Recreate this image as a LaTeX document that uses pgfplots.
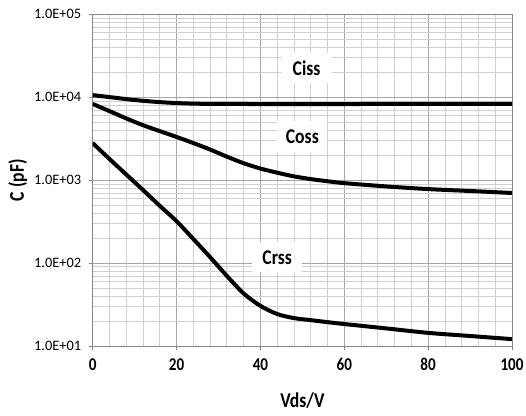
\documentclass[border=0pt]{standalone}
\usepackage{fontspec}
\setmainfont{Carlito}
\usepackage{graphicx}
\usepackage{pgfplots}
\pgfplotsset{compat=1.18}
\definecolor{majgrid}{HTML}{A6A6A6}
\definecolor{mingrid}{HTML}{D0D0D0}
\definecolor{axgray}{HTML}{868686}
\newcommand{\sq}[1]{\scalebox{0.84}[1]{#1}}

\pgfplotstableread{
x y
0 10600
5 9900
10 9250
15 8800
20 8500
25 8350
30 8300
40 8280
60 8280
80 8300
100 8300
}\ciss

\pgfplotstableread{
x y
0 8300
4 6800
8 5550
12 4600
16 3900
20 3320
24 2800
28 2340
32 1920
36 1600
40 1380
44 1230
48 1110
52 1030
56 970
60 920
70 840
80 780
90 740
100 700
}\coss

\pgfplotstableread{
x y
0 2800
4 1800
8 1170
12 760
16 490
20 320
24 195
28 118
32 70
36 43
40 30.5
44 24.3
48 21.7
52 20.5
56 19.4
60 18.4
70 16.3
80 14.4
90 13.2
100 12.1
}\crss

\begin{document}
\begin{tikzpicture}
\useasboundingbox (0,0) rectangle (526bp,416bp);
\begin{axis}[
  at={(92.7bp,70bp)}, anchor=south west,
  scale only axis, width=419.3bp, height=331.7bp,
  xmin=0, xmax=100, ymode=log, ymin=10, ymax=100000,
  xtick={0,20,40,60,80,100},
  xticklabels={\sq{0},\sq{20},\sq{40},\sq{60},\sq{80},\sq{100}},
  minor x tick num=4,
  ytick={10,100,1000,10000,100000},
  yticklabels={1.0E+01,1.0E+02,1.0E+03,1.0E+04,1.0E+05},
  grid=both,
  major grid style={majgrid, line width=0.8bp},
  minor grid style={mingrid, line width=0.8bp},
  axis line style={axgray, line width=0.8bp},
  tick align=outside, xtick pos=bottom, ytick pos=left,
  major tick length=4bp, minor tick length=0pt,
  tick style={axgray, line width=0.8bp},
  xticklabel style={font=\fontsize{18bp}{20bp}\selectfont\bfseries},
  xticklabel shift=5bp,
  yticklabel style={font=\fontsize{14.4bp}{16bp}\selectfont},
  yticklabel shift=4bp,
  xlabel={\sq{Vds/V}},
  ylabel={\sq{C (pF)}},
  xlabel style={font=\fontsize{21bp}{24bp}\selectfont\bfseries, at={(axis description cs:0.5,-0.166)}, anchor=center},
  ylabel style={font=\fontsize{21bp}{24bp}\selectfont\bfseries, at={(axis description cs:-0.179,0.5)}, anchor=center},
  clip=true,
]
\addplot[black, line width=4bp, smooth, no markers] table[x=x,y=y] {\ciss};
\addplot[black, line width=4bp, smooth, no markers] table[x=x,y=y] {\coss};
\addplot[black, line width=4bp, smooth, no markers] table[x=x,y=y] {\crss};
\node[fill=white, minimum width=50bp, minimum height=30bp, inner sep=0pt,
      font=\fontsize{21bp}{24bp}\selectfont\bfseries] at (axis cs:51,22500) {\sq{Ciss}};
\node[fill=white, minimum width=50bp, minimum height=32bp, inner sep=0pt,
      font=\fontsize{21bp}{24bp}\selectfont\bfseries] at (axis cs:50,3350) {\sq{Coss}};
\node[fill=white, minimum width=50bp, minimum height=30bp, inner sep=0pt,
      font=\fontsize{21bp}{24bp}\selectfont\bfseries] at (axis cs:44,117) {\sq{Crss}};
\end{axis}
\end{tikzpicture}
\end{document}
